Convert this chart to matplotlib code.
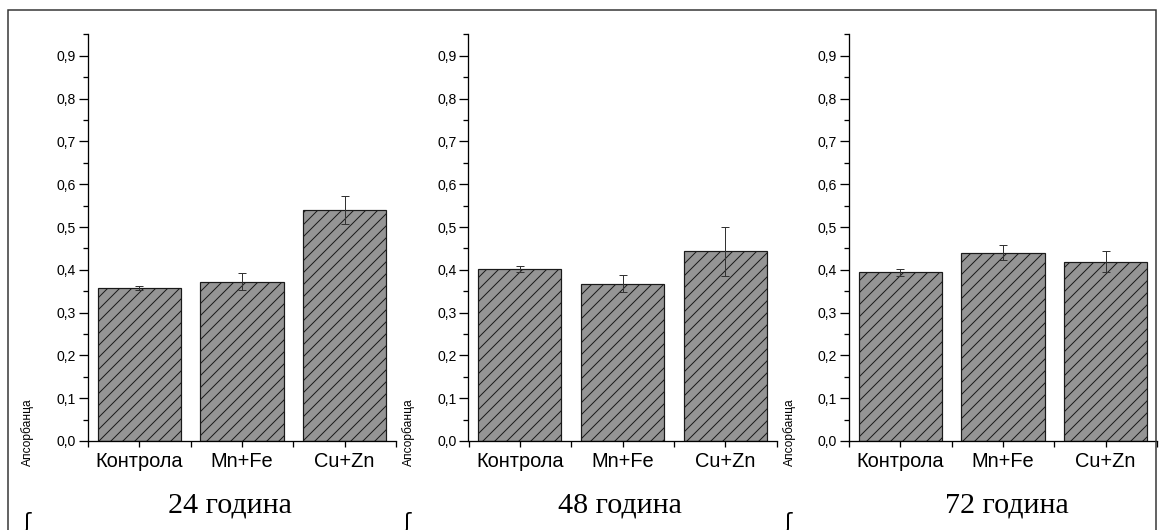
import matplotlib
matplotlib.use("Agg")
import matplotlib.pyplot as plt
from matplotlib.patches import Rectangle
from matplotlib.ticker import MultipleLocator, FixedLocator

DPI = 72
W, H = 1159, 530

categories = ["Контрола", "Mn+Fe", "Cu+Zn"]
periods = ["24 година", "48 година", "72 година"]

means_24 = [0.358, 0.372, 0.540]
err_24 = [0.005, 0.020, 0.033]
means_48 = [0.402, 0.367, 0.443]
err_48 = [0.007, 0.020, 0.058]
means_72 = [0.394, 0.440, 0.419]
err_72 = [0.008, 0.018, 0.025]

ytick_vals = [0.0, 0.1, 0.2, 0.3, 0.4, 0.5, 0.6, 0.7, 0.8, 0.9]
ytick_labels = ["0,0", "0,1", "0,2", "0,3", "0,4", "0,5", "0,6", "0,7", "0,8", "0,9"]
y_label = "Апсорбанца"

plt.rcParams["hatch.linewidth"] = 1.0
plt.rcParams["font.family"] = ["Liberation Sans", "DejaVu Sans"]

fig = plt.figure(figsize=(W / DPI, H / DPI), dpi=DPI)

def px_axes(left, top, right, bottom):
    return fig.add_axes([left / W, 1 - bottom / H, (right - left) / W, (bottom - top) / H])

all_means = [means_24, means_48, means_72]
all_errs = [err_24, err_48, err_72]
title_x = [230, 620, 1007]

for i in range(3):
    x0 = 88 + 380.5 * i
    ax = px_axes(x0, 34, x0 + 308, 441)
    pos = [1, 2, 3]
    ax.bar(pos, all_means[i], width=0.81, color="#959595", edgecolor="#1a1a1a",
           linewidth=1.2, hatch="//", zorder=2)
    ax.errorbar(pos, all_means[i], yerr=all_errs[i], fmt="none", ecolor="#333333",
                elinewidth=1.0, capsize=4, capthick=1.0, zorder=3)
    ax.set_xlim(0.5, 3.5)
    ax.set_ylim(0, 0.951)
    ax.spines["top"].set_visible(False)
    ax.spines["right"].set_visible(False)
    ax.spines["left"].set_linewidth(1.3)
    ax.spines["bottom"].set_linewidth(1.3)
    ax.set_yticks(ytick_vals)
    ax.set_yticklabels(ytick_labels)
    ax.yaxis.set_minor_locator(MultipleLocator(0.05))
    ax.set_xticks(pos)
    ax.set_xticklabels(categories)
    ax.xaxis.set_minor_locator(FixedLocator([0.5, 1.5, 2.5, 3.5]))
    ax.tick_params(axis="y", which="major", length=9, width=1.3, labelsize=14, pad=3)
    ax.tick_params(axis="y", which="minor", length=5, width=1.3)
    ax.tick_params(axis="x", which="major", length=6, width=1.3, labelsize=20, pad=5)
    ax.tick_params(axis="x", which="minor", length=6, width=1.3)
    fig.text((x0 - 60) / W, 1 - 432 / H, y_label, rotation=90, ha="center", va="center",
             fontsize=12)
    fig.text(title_x[i] / W, 1 - 505 / H, periods[i], ha="center", va="center",
             fontsize=30, family=["Liberation Serif", "DejaVu Serif"])
    fig.text((x0 - 61) / W, 1 - 512 / H, "ʃ", ha="center", va="top", fontsize=22,
             family=["DejaVu Sans"])

frame = Rectangle((8 / W, -0.1), (1156 - 8) / W, 1.1 - 10 / H, transform=fig.transFigure,
                  fill=False, edgecolor="#333333", linewidth=1.5, clip_on=False)
fig.patches.append(frame)

fig.savefig("out.png", dpi=DPI)
